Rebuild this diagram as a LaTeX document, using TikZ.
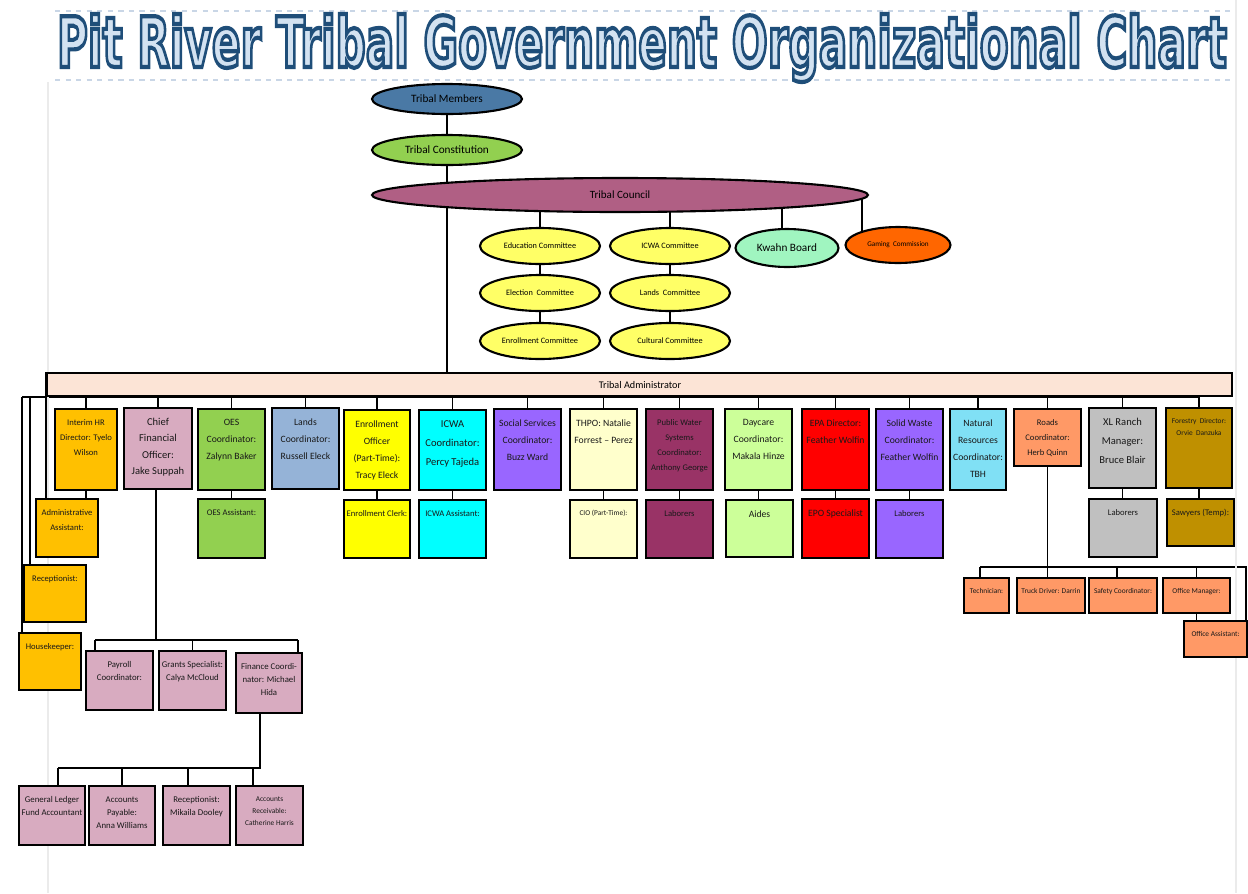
\documentclass[tikz,border=0pt]{standalone}
\usepackage{fontspec}
\usepackage{graphicx}
\setmainfont{Carlito}
\newfontfamily\ttlB[FakeBold=6]{DejaVu Sans}
\usetikzlibrary{shapes.geometric,fit,backgrounds}
\definecolor{cOr}{HTML}{FFC000}
\definecolor{cPk}{HTML}{D8ABC0}
\definecolor{cGr}{HTML}{92D050}
\definecolor{cLd}{HTML}{95B3D7}
\definecolor{cYe}{HTML}{FFFF00}
\definecolor{cCy}{HTML}{00FFFF}
\definecolor{cPu}{HTML}{9966FF}
\definecolor{cLy}{HTML}{FFFFCC}
\definecolor{cMa}{HTML}{993366}
\definecolor{cLg}{HTML}{CCFF99}
\definecolor{cRd}{HTML}{FF0000}
\definecolor{cNr}{HTML}{80E0F5}
\definecolor{cRo}{HTML}{FF9966}
\definecolor{cGy}{HTML}{C0C0C0}
\definecolor{cFo}{HTML}{BF9000}
\definecolor{cAd}{HTML}{FCE4D6}
\definecolor{cTM}{HTML}{4A79A5}
\definecolor{cCo}{HTML}{B05F84}
\definecolor{cCm}{HTML}{FFFF66}
\definecolor{cKw}{HTML}{A0F5C0}
\definecolor{cGm}{HTML}{FF6600}
\definecolor{ttlLight}{HTML}{D3E2F1}
\definecolor{decoLine}{HTML}{C9D6E6}
\tikzset{
  obox/.style={draw=black, line width=1.5pt, inner sep=0pt, rectangle},
  otext/.style={anchor=north, inner sep=0pt, align=center, text=black!90},
  fXS/.style={font=\fontsize{4.2}{7.0}\selectfont},
  fS/.style={font=\fontsize{4.9}{8.6}\selectfont},
  fSt/.style={font=\fontsize{5.0}{7.4}\selectfont},
  fM/.style={font=\fontsize{5.5}{9.7}\selectfont},
  fL/.style={font=\fontsize{6.0}{10.8}\selectfont},
  fLc/.style={font=\fontsize{6.0}{9.2}\selectfont},
  conn/.style={line width=1.1pt, black},
  oval/.style={ellipse, draw=black, line width=1.2pt, inner sep=0pt},
  comm/.style={oval, fill=cCm, minimum width=2.4cm, minimum height=0.72cm, font=\fontsize{4.7}{6}\selectfont},
  ttl/.style={inner sep=0pt, anchor=base},
  deco/.style={decoLine, line width=0.6pt, dashed},
}
\newcommand\orgbox[8]{%
  \node[obox, fill=#6, fit={(#2,#3) (#4,#5)}] (#1) {};
  \node[otext, #7] (#1t) at ([yshift=-6.5pt]#1.north) {#8};
}
\begin{document}
\begin{tikzpicture}[x=0.02cm, y=-0.02cm]
\useasboundingbox (0,0) rectangle (1248,893);
% decorations
\draw[deco] (55,11) -- (1230,11);
\draw[deco] (55,80) -- (1230,80);
\draw[black!8, line width=0.8pt] (48,82) -- (48,893);
\draw[black!8, line width=0.8pt] (1236,0) -- (1236,893);
% title: light fill, dark blue stroke in one text run
\node[ttl] (ttl) at (642,67) {\resizebox{23.4cm}{1.06cm}{\ttlB\bfseries\fontsize{10}{12}\selectfont\color{ttlLight}\special{pdf:code 0.122 0.306 0.475 RG}Pit River Tribal Government Organizational Chart}};
% governance ovals
\node[oval, fill=cTM, minimum width=3cm, minimum height=0.6cm, font=\fontsize{6.4}{8}\selectfont] (tm) at (447,99) {Tribal Members};
\node[oval, fill=cGr, minimum width=3cm, minimum height=0.6cm, font=\fontsize{6.4}{8}\selectfont] (tc) at (447,150) {Tribal Constitution};
\node[oval, fill=cCo, minimum width=9.92cm, minimum height=0.68cm, font=\fontsize{6.3}{8}\selectfont] (council) at (620,195) {Tribal Council};
\node[comm] (edu) at (540,246) {Education Committee};
\node[comm] (elec) at (540,293) {Election~~Committee};
\node[comm] (enrcm) at (540,341) {Enrollment Committee};
\node[comm] (icwac) at (670,246) {ICWA Committee};
\node[comm] (landc) at (670,293) {Lands~~Committee};
\node[comm] (cult) at (670,341) {Cultural Committee};
\node[oval, fill=cKw, minimum width=2.06cm, minimum height=0.76cm, font=\fontsize{6.4}{8}\selectfont] (kwahn) at (787,248) {Kwahn Board};
\node[oval, fill=cGm, minimum width=2.1cm, minimum height=0.72cm, font=\fontsize{4.1}{6}\selectfont] (gaming) at (898,245) {Gaming~~Commission};
\coordinate (gx) at (862,245);
% administrator bar
\node[draw=black, line width=1.2pt, fill=cAd, inner sep=0pt, fit={(47,373) (1232,396)}] (admin) {};
\node[inner sep=0pt, font=\fontsize{5.8}{7}\selectfont] (admint) at (640,385) {Tribal Administrator};
% top row
\orgbox{hr}{55}{409}{117}{490}{cOr}{fS}{Interim HR\\Director: Tyelo\\Wilson}
\orgbox{cfo}{124}{408}{192}{489}{cPk}{fLc}{Chief\\Financial\\Officer:\\Jake Suppah}
\orgbox{oes}{198}{409}{265}{490}{cGr}{fM}{OES\\Coordinator:\\Zalynn Baker}
\orgbox{lands}{272}{408}{339}{489}{cLd}{fM}{Lands\\Coordinator:\\Russell Eleck}
\orgbox{enr}{344}{410}{410}{490}{cYe}{fM}{Enrollment\\Officer\\(Part-Time):\\Tracy Eleck}
\orgbox{icwa}{419}{410}{486}{490}{cCy}{fL}{ICWA\\Coordinator:\\Percy Tajeda}
\orgbox{soc}{494}{409}{561}{490}{cPu}{fM}{Social Services\\Coordinator:\\Buzz Ward}
\orgbox{thpo}{570}{409}{637}{490}{cLy}{fM}{THPO: Natalie\\Forrest -- Perez}
\orgbox{pws}{646}{409}{713}{490}{cMa}{fS}{Public Water\\Systems\\Coordinator:\\Anthony George}
\orgbox{day}{725}{409}{792}{490}{cLg}{fM}{Daycare\\Coordinator:\\Makala Hinze}
\orgbox{epa}{802}{409}{869}{490}{cRd}{fM}{EPA Director:\\Feather Wolfin}
\orgbox{sw}{876}{409}{943}{490}{cPu}{fM}{Solid Waste\\Coordinator:\\Feather Wolfin}
\orgbox{nr}{950}{409}{1006}{490}{cNr}{fM}{Natural\\Resources\\Coordinator:\\TBH}
\orgbox{roads}{1014}{409}{1081}{466}{cRo}{fS}{Roads\\Coordinator:\\Herb Quinn}
\orgbox{xl}{1089}{408}{1156}{488}{cGy}{fL}{XL Ranch\\Manager:\\Bruce Blair}
\orgbox{fore}{1166}{408}{1232}{488}{cFo}{fXS}{Forestry~~Director:\\Orvie~~Danzuka}
% second row
\orgbox{aa}{36}{499}{98}{557}{cOr}{fS}{Administrative\\Assistant:}
\orgbox{oesa}{198}{499}{265}{558}{cGr}{fS}{OES Assistant:}
\orgbox{enrc}{344}{500}{410}{558}{cYe}{fS}{Enrollment Clerk:}
\orgbox{icwaa}{419}{500}{486}{558}{cCy}{fS}{ICWA Assistant:}
\orgbox{cio}{570}{500}{637}{558}{cLy}{fXS}{CIO (Part-Time):}
\orgbox{pwsl}{646}{500}{713}{558}{cMa}{fS}{Laborers}
\orgbox{aides}{726}{500}{793}{557}{cLg}{fM}{Aides}
\orgbox{epo}{802}{499}{869}{558}{cRd}{fM}{EPO Specialist}
\orgbox{swl}{876}{500}{943}{558}{cPu}{fS}{Laborers}
\orgbox{xll}{1089}{499}{1157}{557}{cGy}{fS}{Laborers}
\orgbox{saw}{1167}{499}{1234}{546}{cFo}{fS}{Sawyers (Temp):}
% left column
\orgbox{rec}{24}{565}{86}{622}{cOr}{fS}{Receptionist:}
\orgbox{hk}{19}{633}{81}{690}{cOr}{fS}{Housekeeper:}
% finance
\orgbox{pay}{86}{651}{153}{710}{cPk}{fSt}{Payroll\\Coordinator:}
\orgbox{grants}{159}{651}{226}{710}{cPk}{fSt}{Grants Specialist:\\Calya McCloud}
\orgbox{fin}{236}{653}{302}{713}{cPk}{fSt}{Finance Coordi-\\nator: Michael\\Hida}
\orgbox{gl}{19}{786}{85}{845}{cPk}{fSt}{General Ledger\\Fund Accountant}
\orgbox{ap}{89}{786}{155}{845}{cPk}{fSt}{Accounts\\Payable:\\Anna Williams}
\orgbox{rec2}{163}{786}{230}{845}{cPk}{fSt}{Receptionist:\\Mikaila Dooley}
\orgbox{ar}{236}{786}{303}{845}{cPk}{fXS}{Accounts\\Receivable:\\Catherine Harris}
% roads
\orgbox{tech}{964}{578}{1009}{613}{cRo}{fXS}{Technician:}
\orgbox{truck}{1017}{578}{1085}{613}{cRo}{fXS}{Truck Driver: Darrin}
\orgbox{safe}{1089}{578}{1157}{613}{cRo}{fXS}{Safety Coordinator:}
\orgbox{om}{1163}{578}{1230}{613}{cRo}{fXS}{Office Manager:}
\orgbox{oa}{1184}{621}{1247}{657}{cRo}{fXS}{Office Assistant:}
% connectors
\coordinate (busL) at (22,397);
\coordinate (busR) at (1200,397);
\coordinate (lx1) at (46,397);
\coordinate (lx2) at (30,397);
\coordinate (cb1) at (95,640);
\coordinate (cb2) at (298,640);
\coordinate (fb1) at (58,768);
\coordinate (fb2) at (260,768);
\coordinate (fb3) at (188,768);
\coordinate (fb4) at (253,768);
\coordinate (rb1) at (980,567);
\coordinate (rb2) at (1246,567);
\coordinate (rb3) at (1117,567);
\begin{pgfonlayer}{background}
\draw[conn] (tm.center) -- (tm.center |- admin.center);
\draw[conn] (council.center -| edu.center) -- (enrcm.center);
\draw[conn] (council.center -| icwac.center) -- (cult.center);
\draw[conn] ([xshift=-5*0.02cm]council.center -| kwahn.center) -- ([xshift=-5*0.02cm]kwahn.center);
\draw[conn] (council.center -| gx) -- (gx);
\draw[conn] (busL) -- (busR);
\draw[conn] (busL) -- (busL |- hk.north);
\draw[conn] (lx2) -- (lx2 |- rec.north);
\draw[conn] (lx1 |- admin.north) -- (lx1 |- aa.north);
\foreach \b in {hr,cfo,oes,lands,enr,icwa,soc,thpo,pws,day,epa,sw,nr,roads,xl,fore}
  \draw[conn] (\b.north) -- (\b.north |- busL);
\draw[conn] (hr.south) -- (hr.south |- aa.north);
\draw[conn] (oes.south) -- (oesa.north);
\draw[conn] (enr.south) -- (enrc.north);
\draw[conn] (icwa.south) -- (icwaa.north);
\draw[conn] (thpo.south) -- (cio.north);
\draw[conn] (pws.south) -- (pwsl.north);
\draw[conn] (day.south) -- (day.south |- aides.north);
\draw[conn] (epa.south) -- (epo.north);
\draw[conn] (sw.south) -- (swl.north);
\draw[conn] (xl.south) -- (xl.south |- xll.north);
\draw[conn] (fore.south) -- (fore.south |- saw.north);
% finance tree
\draw[conn] ([xshift=-2*0.02cm]cfo.south) -- ([xshift=-2*0.02cm]cfo.south |- cb1);
\draw[conn] (cb1) -- (cb2);
\draw[conn] (cb1) -- (cb1 |- pay.north);
\draw[conn] (grants.north) -- (grants.north |- cb1);
\draw[conn] (cb2) -- (cb2 |- fin.north);
\draw[conn] (fb2 |- fin.south) -- (fb2) -- (fb1);
\draw[conn] (fb1) -- (fb1 |- gl.north);
\draw[conn] (ap.north) -- (ap.north |- fb1);
\draw[conn] (fb3) -- (fb3 |- rec2.north);
\draw[conn] (fb4) -- (fb4 |- ar.north);
% roads tree
\draw[conn] (roads.south) -- (roads.south |- truck.north);
\draw[conn] (rb1) -- (rb2) -- (rb2 |- oa.north);
\draw[conn] (rb1) -- (rb1 |- tech.north);
\draw[conn] (rb3) -- (rb3 |- safe.north);
\draw[conn] (om.north) -- (om.north |- rb1);
\draw[conn] (om.south) -- (om.south |- oa.north);
\end{pgfonlayer}
\end{tikzpicture}
\end{document}
